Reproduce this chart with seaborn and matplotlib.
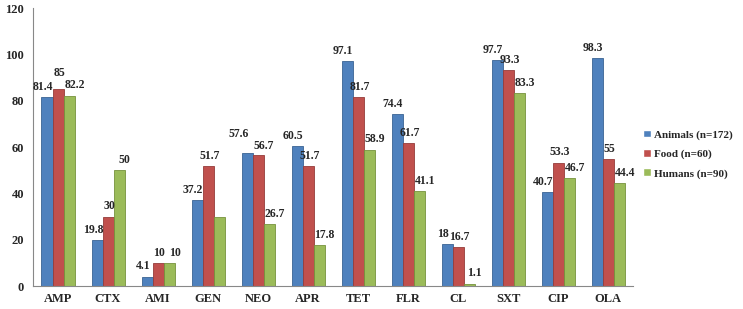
import pandas as pd
import matplotlib
matplotlib.use('Agg')
import matplotlib.pyplot as plt
import seaborn as sns

drugs = ['AMP', 'CTX', 'AMI', 'GEN', 'NEO', 'APR', 'TET', 'FLR', 'CL', 'SXT', 'CIP', 'OLA']
animals = [81.4, 19.8, 4.1, 37.2, 57.6, 60.5, 97.1, 74.4, 18, 97.7, 40.7, 98.3]
food = [85, 30, 10, 51.7, 56.7, 51.7, 81.7, 61.7, 16.7, 93.3, 53.3, 55]
humans = [82.2, 50, 10, 30, 26.7, 17.8, 58.9, 41.1, 1.1, 83.3, 46.7, 44.4]
groups = ['Animals (n=172)', 'Food (n=60)', 'Humans (n=90)']

df = pd.DataFrame({
    'drug': drugs * 3,
    'group': [groups[0]] * 12 + [groups[1]] * 12 + [groups[2]] * 12,
    'pct': animals + food + humans,
})

colors = ['#4F81BD', '#C0504D', '#9BBB59']
edges = ['#3A6393', '#963C3A', '#76923C']

sns.set_style('white')
plt.rcParams['font.family'] = ['Liberation Serif', 'DejaVu Serif']
plt.rcParams['font.weight'] = 'bold'

fig = plt.figure(figsize=(7.43, 3.09), dpi=100)
ax = fig.add_axes([0.0444, 0.074, 0.808, 0.9])

sns.barplot(data=df, x='drug', y='pct', hue='group', hue_order=groups,
            palette=colors, saturation=1, width=0.66, gap=0, ax=ax, legend=True)

for cont, ec in zip(ax.containers, edges):
    for b in cont:
        b.set_edgecolor(ec)
        b.set_linewidth(0.6)

# labels (GEN humans has no label in the original)
shift = [-3, 1, 4]
# a few labels were nudged by hand in the original to avoid clashes
nudge = {(0, 4): (-3, 6), (1, 4): (3, -1), (1, 0): (0, 4)}
for i, cont in enumerate(ax.containers):
    vals = [animals, food, humans][i]
    labs = ['%g' % v for v in vals]
    if i == 2:
        labs[3] = ''
    for j, (b, lab) in enumerate(zip(cont, labs)):
        if lab == '':
            continue
        dx, dy = nudge.get((i, j), (0, 0))
        x = b.get_x() + b.get_width() / 2
        ax.annotate(lab, (x, b.get_height()), xytext=(shift[i] + dx, 3 + dy),
                    textcoords='offset points', ha='center', va='bottom',
                    fontsize=8.5, fontweight='bold')

ax.set_ylim(0, 120)
ax.set_yticks(range(0, 121, 20))
ax.set_xlim(-0.5, 11.5)
ax.set_xlabel('')
ax.set_ylabel('')
ax.tick_params(axis='both', labelsize=9, length=3, color='#888888', direction='out')
ax.tick_params(axis='x', length=0, pad=5)
for s in ['top', 'right']:
    ax.spines[s].set_visible(False)
for s in ['left', 'bottom']:
    ax.spines[s].set_color('#888888')
    ax.spines[s].set_linewidth(0.8)

leg = ax.legend(loc='center left', bbox_to_anchor=(1.0, 0.475), frameon=False,
                fontsize=8, handlelength=0.7, handleheight=0.7, handletextpad=0.3,
                labelspacing=0.85)

fig.savefig('out.png', dpi=100)
